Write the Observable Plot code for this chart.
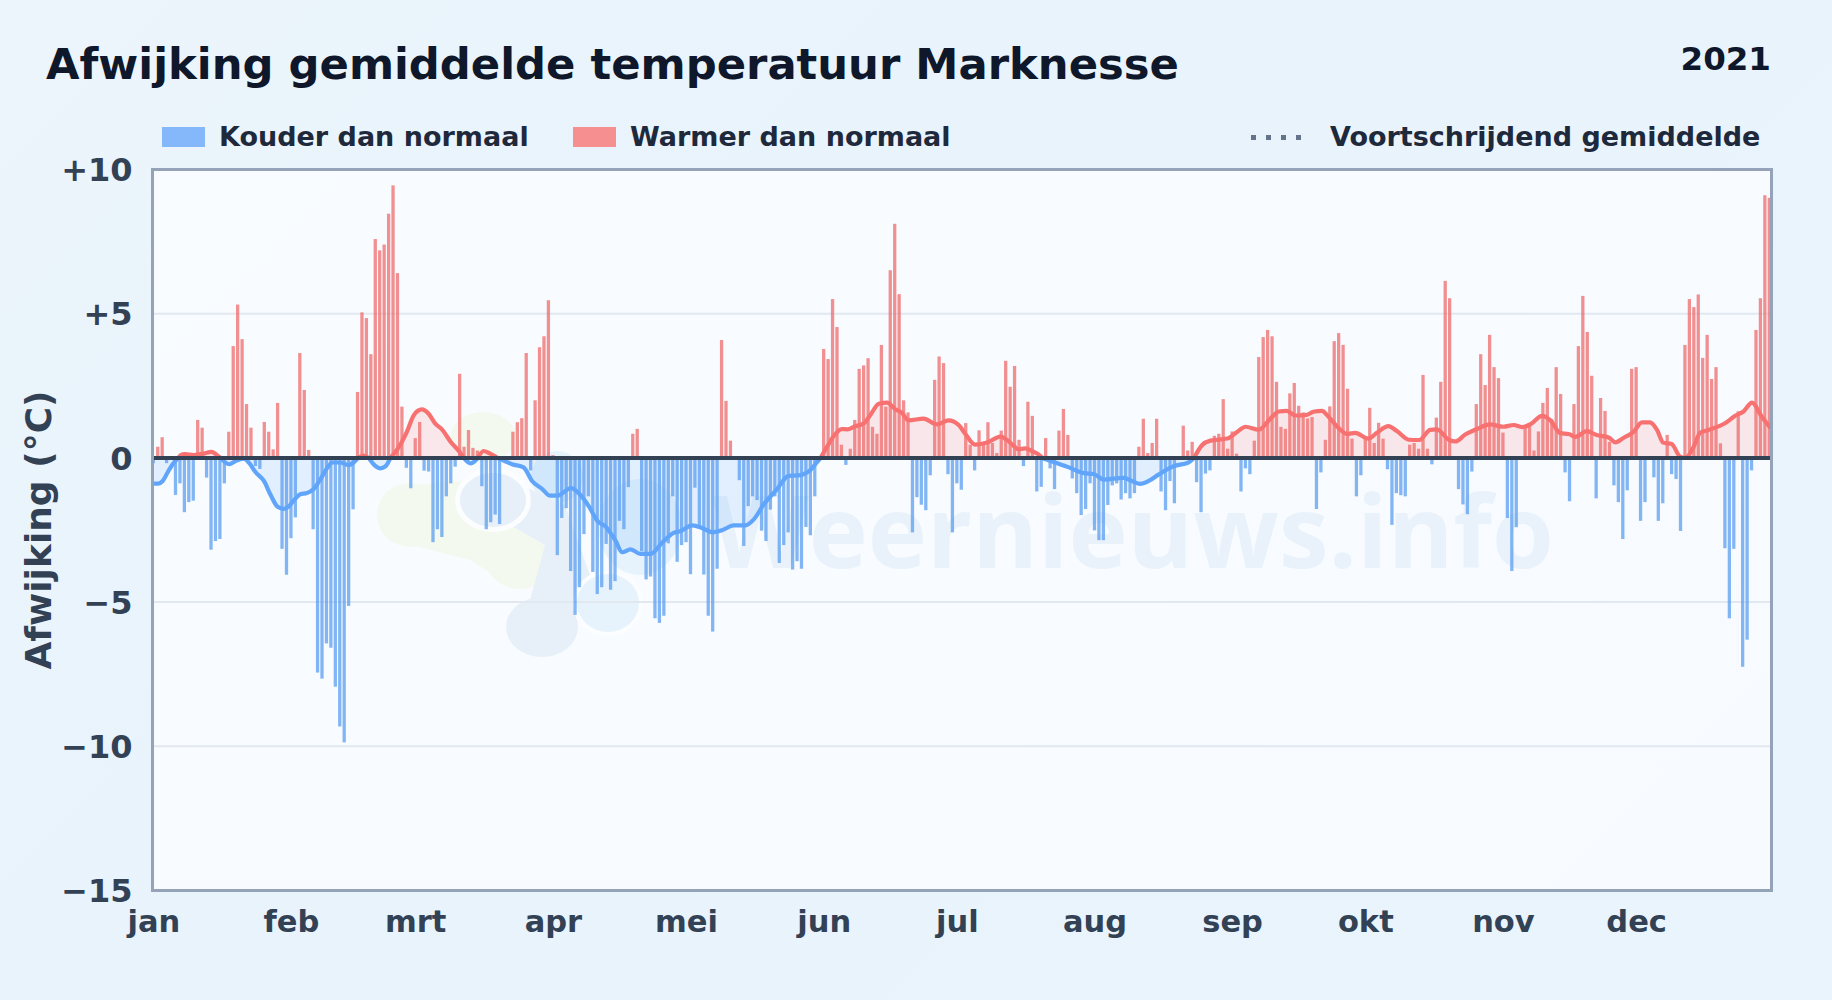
<!DOCTYPE html>
<html lang="nl"><head><meta charset="utf-8">
<script src="https://cdn.jsdelivr.net/npm/d3@7"></script>
<script src="https://cdn.jsdelivr.net/npm/@observablehq/plot@0.6"></script>
<style>
html,body{margin:0;padding:0;width:1832px;height:1000px;overflow:hidden;background:linear-gradient(135deg,#ecf5fb 0%,#e8f3fc 40%,#e9f4fd 100%);font-family:"DejaVu Sans",sans-serif;font-weight:700}
.abs{position:absolute;white-space:nowrap}
#title{left:46px;top:37px;font-size:43.3px;color:#0f172a;line-height:54px}
#year{right:61px;top:39px;font-size:32.5px;color:#0f172a;line-height:40px}
.leg{top:120px;font-size:27px;line-height:34px;color:#1e293b}
.sw{top:127px;width:43px;height:20px}
.dot{top:135px;width:5px;height:5px;background:#64748b}
#bg{left:152px;top:169px;width:1619px;height:721px;background:linear-gradient(135deg,#f9fcff,#f7fbff)}
#wm{left:0;top:0}
#chart{left:0;top:0}
</style></head><body>
<div id="bg" class="abs"></div>
<svg id="wm" class="abs" width="1832" height="1000" aria-hidden="true">
  <g fill="#f4f9f0"><ellipse cx="410" cy="515" rx="33" ry="32"/><ellipse cx="520" cy="553" rx="37" ry="36"/><ellipse cx="483" cy="437" rx="33" ry="25"/><path d="M415 485 L470 480 L515 520 L510 585 L470 560 L415 546Z"/></g>
  <g fill="#e6f3fd"><ellipse cx="557" cy="477" rx="26" ry="26"/><ellipse cx="640" cy="527" rx="42" ry="48"/></g>
  <g fill="#e7f0f9"><path d="M505 478 L565 505 L590 575 L570 620 L530 600 L545 545 L510 525 Z"/><ellipse cx="542" cy="627" rx="36" ry="30"/><ellipse cx="493" cy="500" rx="33" ry="27" stroke="#fbfdff" stroke-width="10" paint-order="stroke"/></g>
  <g fill="#e6f3fd"><ellipse cx="608" cy="603" rx="31" ry="29" stroke="#fbfdff" stroke-width="8" paint-order="stroke"/></g>
  <text x="712" y="568" font-family="Open Sans" font-weight="700" font-size="100" fill="#e9f2fb">Weernieuws.info</text>
</svg>
<div id="chart" class="abs"></div>
<div id="title" class="abs">Afwijking gemiddelde temperatuur Marknesse</div>
<div id="year" class="abs">2021</div>
<div class="abs sw" style="left:162px;background:#85b8fb"></div>
<div class="abs leg" style="left:219px">Kouder dan normaal</div>
<div class="abs sw" style="left:573px;background:#f58f90"></div>
<div class="abs leg" style="left:630px">Warmer dan normaal</div>
<div class="abs dot" style="left:1251px"></div><div class="abs dot" style="left:1266px"></div><div class="abs dot" style="left:1281px"></div><div class="abs dot" style="left:1296px"></div>
<div class="abs leg" style="left:1330px">Voortschrijdend gemiddelde</div>
<script>
const monthNames = ["jan","feb","mrt","apr","mei","jun","jul","aug","sep","okt","nov","dec"];
const monthStarts = [0,31,59,90,120,151,181,212,243,273,304,334];
const yTicks = [10,5,0,-5,-10,-15];
const gridLines = [5,-5,-10];

const jan = [-.2,.37,.7,-.2,0,-1.3,-.9,-1.9,-1.55,-1.5,1.3,1.03,-.7,-3.2,-2.9,-2.83,-.9,.89,3.86,5.3,4.1,1.85,1.03,-.3,-.4,1.23,.89,.28,1.89,-3.17,-4.07];
const feb = [-2.8,-2.08,3.62,2.34,.26,-2.49,-7.46,-7.67,-6.45,-6.6,-7.95,-9.33,-9.88,-5.15,-1.8,2.27,5.03,4.83,3.58,7.57,7.18,7.38,8.45,9.43,6.39,1.76,-.36,-1.07];
const mrt = [.67,1.23,-.46,-.49,-2.94,-2.49,-2.76,-1.35,-.9,-.32,2.9,.37,.95,.33,.24,-1,-2.49,-2.25,-1.98,-2.31,0,0,.89,1.22,1.36,3.62,-.45,1.98,3.82,4.2,5.45];
const apr = [.08,-3.39,-2.1,-1.76,-3.94,-5.46,-4.5,-2.66,-1.35,-3.97,-4.74,-4.5,-3,-4.59,-4.29,-2.2,-2.49,-1.03,.82,.99,-3.25,-4.23,-4.13,-5.58,-5.74,-5.49,-2.98,-1.35,-3.62,-3.04];
const mei = [-2.94,-4.05,-1.05,-2.4,-4.06,-5.49,-6.04,-3.86,4.07,1.96,.58,0,-.79,-3.07,-1.69,-1.35,-1.48,-2.54,-2.9,-1.81,-1.35,-3.66,-3.04,-2.6,-3.89,-3.6,-3.86,-2.41,-2.7,-1.35,0];
const jun = [3.76,3.41,5.49,4.52,.44,-.26,.3,1.3,3.07,3.19,3.44,1.06,.82,3.9,1.76,6.49,8.1,5.66,1.98,1.56,-2.6,-1.38,-1.64,-1.83,-.62,2.69,3.5,3.27,-.58,-2.6];
const jul = [-.9,-1.12,1.19,.44,-.45,.94,.44,1.22,.5,.15,.93,3.35,2.45,3.17,.61,-.3,1.93,1.44,-1.18,-1.02,.67,-.38,-1.1,.93,1.68,.78,-.73,-1.24,-2,-1.79,-.9];
const aug = [-2.53,-2.87,-2.87,-1.65,-.97,-.9,-1.46,-1.24,-1.42,-1.24,.37,1.34,.15,.5,1.34,-1.18,-1.83,-.82,-1.59,0,1.1,.24,.54,-.86,-1.9,-.56,-.45,.75,.82,2.02,.3];
const sep = [.9,.13,-1.18,-.38,-.58,.58,3.48,4.17,4.42,4.2,2.62,1.06,.99,2.22,2.58,1.79,1.56,1.35,1.4,-1.79,-.52,.61,1.77,4.03,4.31,3.9,2.38,.65,-1.35,-.62];
const okt = [.63,1.72,.5,1.2,.65,-.41,-2.34,-1.24,-1.31,-1.35,.44,.5,.3,2.86,.3,-.24,1.38,2.62,6.12,5.52,0,-1.1,-1.63,-1.97,-.49,1.85,3.58,2.51,4.25,3.13,2.75];
const nov = [.86,-2.1,-3.94,-2.42,0,1.07,1.12,.24,.9,1.89,2.41,1.32,3.13,2.2,-.52,-1.52,1.85,3.86,5.6,4.35,2.83,-1.42,2.06,1.61,.54,-.97,-1.55,-2.83,-1.14,3.07];
const dec = [3.13,-2.2,-1.55,0,-.69,-2.2,-1.59,.78,-.58,-.75,-2.55,3.9,5.49,5.21,5.65,3.45,4.25,2.72,3.13,.49,-3.15,-5.58,-3.17,1.6,-7.26,-6.32,-.45,4.42,5.52,9.09,9];
const anomalies = [...jan,...feb,...mrt,...apr,...mei,...jun,...jul,...aug,...sep,...okt,...nov,...dec];

const avgDays = [0,1,2,3.4,4.7,5.5,6,7,9,11.3,13,14.6,15,17,18.4,20.3,21.4,22.9,24.8,26.3,27.8,29.3,30.4,31.9,33,34.5,36,37.5,39,40.2,42,43.9,45,46,47.3,48.4,49.5,51,52.2,53.3,55.2,57,58.6,60.4,61.9,63.4,64.9,66.8,69.4,69.8,71.4,73,74.3,75.5,77,77.3,78.8,80.7,83.3,85.2,87.5,89.3,90.9,94,95.7,98,99.9,101.7,104,105.5,107.4,109.6,111.9,114.5,117.1,118.6,121.3,123.5,125.8,128,130.6,133.3,135.1,137.4,140.4,143,144.9,147.9,149,150.2,151.7,153.2,155,156.2,158,159.9,161.4,163.3,165.2,167,168.5,170,173.4,176.4,179,181.3,182.8,185,187.7,190.7,192.9,194.8,196.3,197.8,199.7,200.1,203,206,209.5,211.7,214,218.5,220.3,222.2,224.1,226.3,229.7,233,234.3,236.1,238,241.8,244,245.9,248.9,251.5,253.4,255.2,257.1,259.7,261.2,263.1,264.6,266.9,268.8,270.6,273.6,275.5,278.1,280,282.7,285,287.5,289,291.7,293.2,295.4,298,301,304,306.3,308.2,310,312.7,314.6,316.8,318.7,320.2,322.8,325,327.7,329.2,331.1,333.3,335.2,337,338.6,340,341.9,343.8,345,346.8,348.3,350.2,353.9,356.2,358,360,362.2,364];
const avgValues = [-.89,-.89,-.8,-.42,-.13,0,.09,.13,.1,.15,.21,.05,0,-.22,-.11,-.03,-.16,-.49,-.8,-1.28,-1.68,-1.77,-1.68,-1.41,-1.26,-1.22,-1.08,-.75,-.36,-.16,-.16,-.25,-.16,0,.08,0,-.22,-.36,-.29,0,.37,.9,1.49,1.68,1.53,1.19,.99,.57,.1,0,-.19,0,.24,.17,.04,0,-.09,-.22,-.33,-.8,-1.08,-1.31,-1.31,-1.05,-1.22,-1.68,-2.18,-2.37,-2.87,-3.27,-3.17,-3.33,-3.33,-2.94,-2.6,-2.54,-2.34,-2.43,-2.58,-2.51,-2.34,-2.34,-2.14,-1.61,-1.08,-.62,-.61,-.42,-.22,0,.4,.77,1,.99,1.1,1.19,1.49,1.88,1.92,1.69,1.56,1.3,1.36,1.16,1.3,1.14,.83,.46,.53,.74,.53,.3,.33,.24,.07,0,-.16,-.32,-.53,-.56,-.75,-.69,-.8,-.9,-.8,-.58,-.29,-.16,0,.44,.6,.67,.9,1.08,.98,1.36,1.61,1.63,1.47,1.49,1.6,1.63,1.43,1.03,.83,.87,.67,.87,1.1,.93,.63,.62,.97,.99,.63,.57,.81,1,1.16,1.08,1.14,1.07,1.16,1.46,1.3,.86,.83,.73,.93,.79,.71,.54,.7,.9,1.23,1.23,.97,.53,.48,.04,0,.37,.87,.97,1.2,1.46,1.6,1.92,1.43,1.07];

const bars = anomalies.map((v, day) => ({day, v}));
const avg = avgDays.map((day, i) => ({day, v: avgValues[i]}));
const halfBar = 0.37;
const label = new Map(monthStarts.map((d, i) => [d, monthNames[i]]));
const fmtY = v => v > 0 ? "+" + v : v < 0 ? "\u2212" + (-v) : "0";
const pos = d => d.v >= 0 ? d.v : NaN;
const neg = d => d.v <= 0 ? d.v : NaN;

const plot = Plot.plot({
  width: 1832, height: 1000,
  marginTop: 169, marginBottom: 110, marginLeft: 152, marginRight: 61,
  style: {background: "transparent", fontFamily: "DejaVu Sans", fontWeight: 700},
  x: {type: "linear", domain: [0, 364], range: [153.3, 1769.3]},
  y: {domain: [-15, 10]},
  marks: [
    Plot.ruleY(gridLines, {stroke: "#e2e8f0", strokeWidth: 2}),
    Plot.areaY(avg, {x: "day", y1: 0, y2: pos, fill: "#f87171", fillOpacity: 0.15, curve: "monotone-x"}),
    Plot.areaY(avg, {x: "day", y1: 0, y2: neg, fill: "#60a5fa", fillOpacity: 0.15, curve: "monotone-x"}),
    Plot.rect(bars, {x1: d => d.day - halfBar, x2: d => d.day + halfBar, y1: 0, y2: "v",
      fill: d => d.v >= 0 ? "#ef6b6b" : "#5a9ef0", fillOpacity: 0.75, clip: true}),
    Plot.line(avg, {x: "day", y: pos, stroke: "#f87171", strokeWidth: 4.2, curve: "monotone-x"}),
    Plot.line(avg, {x: "day", y: neg, stroke: "#60a5fa", strokeWidth: 4.2, curve: "monotone-x"}),
    Plot.ruleY([0], {stroke: "#334155", strokeWidth: 4}),
    Plot.frame({stroke: "#94a3b8", strokeWidth: 3}),
    Plot.axisY({ticks: yTicks, tickFormat: fmtY, tickSize: 0, tickPadding: 20, dy: 1.5, fontSize: 32, fill: "#334155", label: null}),
    Plot.text(["Afwijking (°C)"], {frameAnchor: "left", textAnchor: "middle", dx: -113, rotate: -90, fontSize: 36, fill: "#334155", fontWeight: 700}),
    Plot.axisX({ticks: monthStarts, tickFormat: d => label.get(d), tickSize: 0, tickPadding: 20, fontSize: 30.5, fill: "#334155", label: null})
  ]
});
document.getElementById("chart").append(plot);
</script>
</body></html>
